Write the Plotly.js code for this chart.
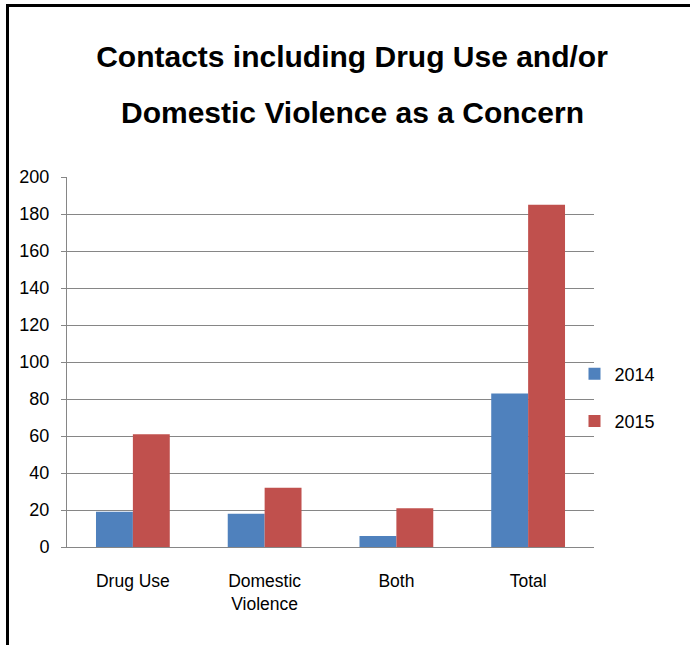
<!DOCTYPE html>
<html>
<head>
<meta charset="utf-8">
<script src="https://cdn.plot.ly/plotly-3.0.1.min.js"></script>
<style>
  html, body { margin: 0; padding: 0; background: #ffffff; }
  #wrap { position: relative; width: 690px; height: 645px; }
  #chart { position: absolute; left: 0; top: 0; width: 690px; height: 645px; }
  #bt { position: absolute; left: 6px; top: 4px; width: 684px; height: 3px; background: #000; }
  #bl { position: absolute; left: 6px; top: 4px; width: 3px; height: 641px; background: #000; }
</style>
</head>
<body>
<div id="wrap">
  <div id="chart"></div>
  <div id="bt"></div>
  <div id="bl"></div>
</div>
<script>
const categories = ["Drug Use", "Domestic<br>Violence", "Both", "Total"];
const values2014 = [19, 18, 6, 83];
const values2015 = [61, 32, 21, 185];
const yTicks = [0, 20, 40, 60, 80, 100, 120, 140, 160, 180, 200];
const titleLine1 = "Contacts including Drug Use and/or";
const titleLine2 = "Domestic Violence as a Concern";

const FONT = "Liberation Sans, Arial, sans-serif";

const traces = [
  { type: "bar", name: "2014", x: categories, y: values2014,
    marker: { color: "#4F81BD" }, legendgroup: "a", hoverinfo: "none" },
  { type: "bar", name: "2015", x: categories, y: values2015,
    marker: { color: "#C0504D" }, legendgroup: "b", hoverinfo: "none" }
];

const layout = {
  width: 690, height: 645,
  paper_bgcolor: "#ffffff", plot_bgcolor: "#ffffff",
  margin: { l: 67, r: 96, t: 177, b: 98, pad: 0 },
  barmode: "group", bargap: 0.44, bargroupgap: 0,
  title: {
    text: "<b>" + titleLine1 + "</b>",
    font: { family: FONT, size: 30, color: "#000000" },
    x: 352 / 690, xanchor: "center", xref: "container",
    y: 0.912, yanchor: "middle", yref: "container"
  },
  annotations: [{
    text: "<b>" + titleLine2 + "</b>",
    font: { family: FONT, size: 30, color: "#000000" },
    xref: "paper", yref: "paper",
    x: (352 - 67) / 527, y: 1 + (177 - 112) / 370,
    xanchor: "center", yanchor: "middle", showarrow: false
  }],
  xaxis: {
    type: "category",
    showgrid: false, showline: true, linecolor: "#868686", linewidth: 1,
    ticks: "", ticklabelstandoff: 18,
    tickfont: { family: FONT, size: 17.5, color: "#000000" },
    fixedrange: true
  },
  yaxis: {
    range: [0, 200], tickvals: yTicks, ticktext: yTicks.map(String),
    showgrid: true, gridcolor: "#868686", gridwidth: 1,
    showline: true, linecolor: "#868686", linewidth: 1,
    ticks: "outside", ticklen: 5, tickcolor: "#868686",
    ticklabelstandoff: 8,
    zeroline: false,
    tickfont: { family: FONT, size: 18, color: "#000000" },
    fixedrange: true
  },
  showlegend: true,
  legend: {
    x: 0.963, xanchor: "left", y: 0.404, yanchor: "middle",
    font: { family: FONT, size: 18, color: "#000000" },
    traceorder: "grouped", tracegroupgap: 21,
    bgcolor: "rgba(0,0,0,0)"
  }
};

Plotly.newPlot("chart", traces, layout, { staticPlot: true, displayModeBar: false });
</script>
</body>
</html>
